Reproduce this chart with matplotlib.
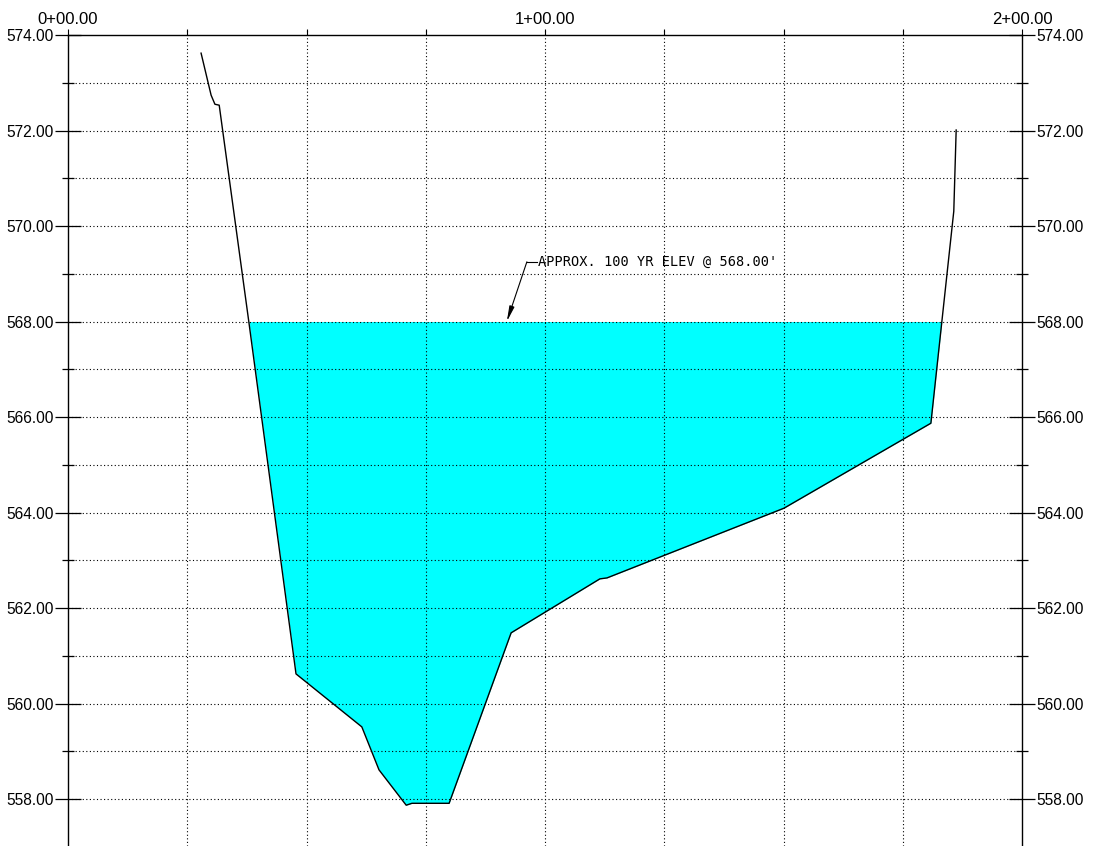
import numpy as np
import matplotlib
matplotlib.use("Agg")
import matplotlib.pyplot as plt

# Ground profile (station ft, elevation ft)
station = [27.9, 30.0, 30.8, 31.7, 37.9, 47.8, 61.6, 65.2, 70.9, 72.1, 79.9, 92.9,
           111.5, 113.0, 150.1, 180.9, 183.2, 185.7, 186.2]
elev = [573.62, 572.74, 572.55, 572.53, 568.0, 560.62, 559.51, 558.61, 557.87, 557.91,
        557.91, 561.48, 562.61, 562.63, 564.09, 565.87, 568.0, 570.31, 572.01]
water_elev = 568.0
x_tick_labels = ["0+00.00", "1+00.00", "2+00.00"]
x_label_pos = [0, 100, 200]
annot_text = "APPROX. 100 YR ELEV @ 568.00'"

W, H = 1098, 846
fig = plt.figure(figsize=(W / 100, H / 100), dpi=100)
ax = fig.add_axes([68 / W, 0, 954 / W, 811 / H])
ymax = 574.0
ymin = ymax - 811 / 47.75
ax.set_xlim(0, 200)
ax.set_ylim(ymin, ymax)

x = np.array(station)
y = np.array(elev)
ax.fill_between(x, y, water_elev, where=y <= water_elev + 1e-9, interpolate=True,
                color="#00FFFF", lw=0, zorder=1)
ax.plot(x, y, color="black", lw=1.0, zorder=4)

# grid
dot = (0, (1, 2.2))
for gx in range(25, 200, 25):
    ax.plot([gx, gx], [ymin, ymax + 0.12], color="black", lw=0.8, ls=dot, zorder=3, clip_on=False)
for gy in range(558, 574):
    ax.plot([0, 200], [gy, gy], color="black", lw=0.8, ls=dot, zorder=3)

ax.spines["bottom"].set_visible(False)
for s in ["left", "right", "top"]:
    ax.spines[s].set_linewidth(1.0)

# y ticks
font = "Liberation Sans"
ax.set_yticks(np.arange(558, 575, 2))
ax.set_yticklabels([f"{v:.2f}" for v in np.arange(558, 575, 2)], fontsize=11.2, family=font)
ax.set_yticks(np.arange(559, 574, 2), minor=True)
ax.tick_params(axis="y", which="major", direction="inout", length=19, width=0.9,
               left=True, right=True, labelleft=True, labelright=True, pad=1)
ax.tick_params(axis="y", which="minor", direction="inout", length=8, width=0.9,
               left=True, right=True)

# x ticks on top
ax.xaxis.set_ticks_position("top")
ax.set_xticks(np.arange(0, 201, 25))
ax.set_xticklabels([x_tick_labels[x_label_pos.index(v)] if v in x_label_pos else ""
                    for v in range(0, 201, 25)], fontsize=12, family=font)
ax.tick_params(axis="x", which="major", direction="out", length=4, width=0.8,
               top=True, bottom=False, labeltop=True, labelbottom=False, pad=2)

# annotation
ax.plot([98.3, 96.2], [569.25, 569.25], color="black", lw=0.8, zorder=5)
ax.annotate("", xy=(92.0, 568.0), xytext=(96.2, 569.25),
            arrowprops=dict(arrowstyle="-|>,head_length=0.9,head_width=0.15",
                            lw=0.8, color="black", shrinkA=0, shrinkB=0), zorder=5)
ax.text(98.5, 569.25, annot_text, fontsize=9.8, family="DejaVu Sans Mono",
        va="center", ha="left", zorder=5)

fig.savefig("out.png", dpi=100)
